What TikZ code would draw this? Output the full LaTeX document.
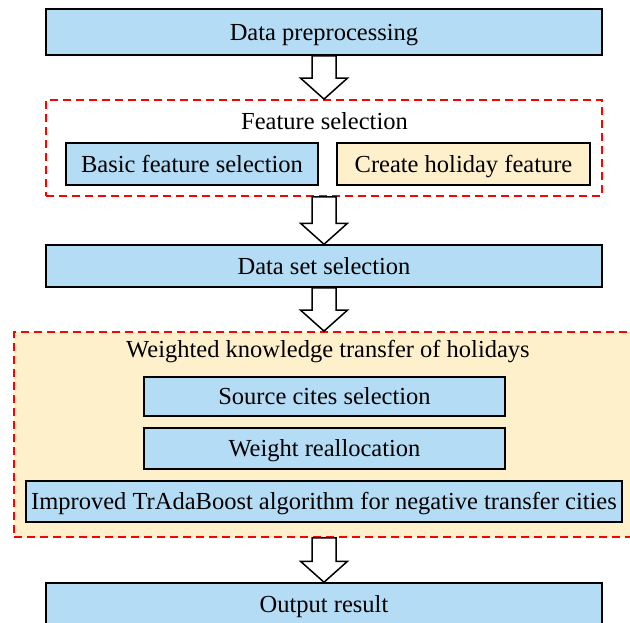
\documentclass[tikz,border=0pt]{standalone}
\usepackage{fontspec}
\setmainfont{Liberation Serif}
\usetikzlibrary{calc}

\definecolor{boxblue}{RGB}{180,220,245}
\definecolor{boxcream}{RGB}{255,240,204}

\begin{document}
\begin{tikzpicture}[x=1pt,y=-1pt]
\tikzset{blk/.style={draw,fill=boxblue,line width=1.5pt,inner sep=0pt,
                     text height=18pt,text depth=2pt,
                     font=\fontsize{24.5}{28}\selectfont},
         grp/.style={draw=red,dashed,dash pattern=on 8pt off 5pt,line width=1.8pt,inner sep=0pt},
         lab/.style={draw=none,fill=none,inner sep=0pt,font=\fontsize{24.5}{28}\selectfont},
         hol/.style={draw,fill=white,line width=1.5pt,line join=miter}}
\clip (0,0) rectangle (630,622);
% dashed groups first, so the boxes sit on top
\node[grp,minimum width=556pt,minimum height=96pt] (feat) at (324,148) {};
\node[grp,fill=boxcream,minimum width=620pt,minimum height=205pt] (wkt) at (324,434.5) {};
\node[lab] (ftit) at (324.5,121) {Feature selection};
\node[lab] (wtit) at (328,352) {Weighted knowledge transfer of holidays};
% main chain
\node[blk,minimum width=556pt,minimum height=46pt] (pre) at (324,32) {Data preprocessing};
\node[blk,minimum width=252pt,minimum height=42pt] (basic) at (192,164) {Basic feature selection};
\node[blk,fill=boxcream,minimum width=253pt,minimum height=42pt] (holi) at (463.5,164) {Create holiday feature};
\node[blk,minimum width=556pt,minimum height=42pt] (dset) at (324,266) {Data set selection};
\node[blk,minimum width=361pt,minimum height=39pt] (src) at (324.5,396.5) {Source cites selection};
\node[blk,minimum width=361pt,minimum height=41pt] (wre) at (324.5,448.5) {Weight reallocation};
\node[blk,minimum width=596pt,minimum height=41pt] (imp) at (324,501.5) {Improved TrAdaBoost algorithm for negative transfer cities};
\node[blk,minimum width=556pt,minimum height=42pt] (out) at (324,604) {Output result};
% hollow block arrows between the stages
\foreach \a/\b in {pre/feat,feat/dset,dset/wkt,wkt/out}
  \draw[hol] let \p1=(\a.south), \p2=(\b.north) in
    (\x1-12pt,\y1) -- (\x1+12pt,\y1) -- (\x1+12pt,\y2+21pt) -- (\x1+23.5pt,\y2+21pt)
    -- (\x1,\y2) -- (\x1-23.5pt,\y2+21pt) -- (\x1-12pt,\y2+21pt) -- cycle;
\end{tikzpicture}
\end{document}
